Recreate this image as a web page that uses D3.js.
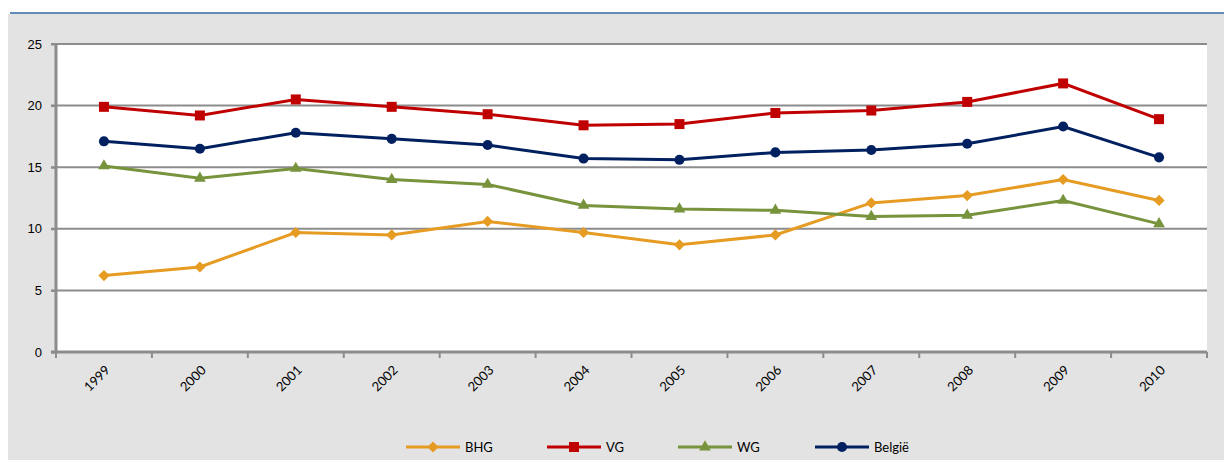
<!DOCTYPE html>
<html>
<head>
<meta charset="utf-8">
<title>Line chart</title>
<style>
    body
    {
        margin: 0;
        background: #ffffff;
        font-family: Lato, "Open Sans", sans-serif;
    }

    svg text
    {
        fill: #000000;
        font-size: 13px;
    }
</style>
<script src="https://d3js.org/d3.v7.min.js"></script>
</head>
<body>
<svg id="chart" width="1224" height="460"></svg>

<script>
var years = ["1999", "2000", "2001", "2002", "2003", "2004", "2005", "2006", "2007", "2008", "2009", "2010"];
var yTicks = [0, 5, 10, 15, 20, 25];

var bhg = [6.2, 6.9, 9.7, 9.5, 10.6, 9.7, 8.7, 9.5, 12.1, 12.7, 14.0, 12.3];
var vg = [19.9, 19.2, 20.5, 19.9, 19.3, 18.4, 18.5, 19.4, 19.6, 20.3, 21.8, 18.9];
var wg = [15.1, 14.1, 14.9, 14.0, 13.6, 11.9, 11.6, 11.5, 11.0, 11.1, 12.3, 10.4];
var belgie = [17.1, 16.5, 17.8, 17.3, 16.8, 15.7, 15.6, 16.2, 16.4, 16.9, 18.3, 15.8];

var seriesNames = ["BHG", "VG", "WG", "België"];
var seriesColors = ["#e69b23", "#c00000", "#77933c", "#002060"];
var seriesSymbols = [d3.symbolDiamond2, d3.symbolSquare, d3.symbolTriangle, d3.symbolCircle];
var seriesData = [bhg, vg, wg, belgie];

var svg = d3.select("#chart");

// background panel and top rule
svg.append("rect")
    .attr("x", 8).attr("y", 14)
    .attr("width", 1216).attr("height", 446)
    .attr("fill", "#e3e3e3");

svg.append("line")
    .attr("x1", 10).attr("x2", 1224)
    .attr("y1", 13).attr("y2", 13)
    .attr("stroke", "#2e64a0")
    .attr("stroke-width", 1.5);

var plot = { left: 56, right: 1207, top: 44, bottom: 352 };

var x = d3.scaleBand()
    .domain(years)
    .range([plot.left, plot.right]);

var y = d3.scaleLinear()
    .domain([0, 25])
    .range([plot.bottom, plot.top]);

svg.append("rect")
    .attr("x", plot.left).attr("y", plot.top)
    .attr("width", plot.right - plot.left)
    .attr("height", plot.bottom - plot.top)
    .attr("fill", "#ffffff");

// gridlines
svg.append("g")
    .selectAll("line")
    .data(yTicks.filter(function(d) { return d > 0; }))
    .enter()
    .append("line")
    .attr("x1", plot.left - 5)
    .attr("x2", plot.right)
    .attr("y1", function(d) { return y(d); })
    .attr("y2", function(d) { return y(d); })
    .attr("stroke", "#8c8c8c")
    .attr("stroke-width", 2);

// y axis
var yAxis = svg.append("g")
    .attr("transform", "translate(" + plot.left + ",0)")
    .call(d3.axisLeft(y).tickValues(yTicks).tickSize(5).tickPadding(9));

yAxis.select(".domain")
    .attr("stroke", "#8c8c8c")
    .attr("stroke-width", 3)
    .attr("d", "M0," + plot.top + "V" + (plot.bottom + 1));

yAxis.selectAll(".tick line")
    .attr("stroke", "#8c8c8c")
    .attr("stroke-width", 2);

yAxis.selectAll(".tick text")
    .style("font-size", "13px")
    .attr("fill", "#000");

// x axis with ticks at band boundaries
var xAxis = svg.append("g")
    .attr("transform", "translate(0," + plot.bottom + ")");

xAxis.append("line")
    .attr("x1", plot.left - 5)
    .attr("x2", plot.right)
    .attr("y1", 0).attr("y2", 0)
    .attr("stroke", "#8c8c8c")
    .attr("stroke-width", 3);

var boundaries = years.map(function(d) { return x(d); }).concat([plot.right]);

xAxis.selectAll(".xtick")
    .data(boundaries)
    .enter()
    .append("line")
    .attr("class", "xtick")
    .attr("x1", function(d) { return d; })
    .attr("x2", function(d) { return d; })
    .attr("y1", 0).attr("y2", 6)
    .attr("stroke", "#8c8c8c")
    .attr("stroke-width", 2);

xAxis.selectAll(".xlabel")
    .data(years)
    .enter()
    .append("text")
    .attr("class", "xlabel")
    .attr("text-anchor", "end")
    .attr("transform", function(d) {
        return "translate(" + (x(d) + x.bandwidth() / 2 + 7) + ",19) rotate(-45)";
    })
    .style("font-size", "13px")
    .text(function(d) { return d; });

// lines and markers
var line = d3.line()
    .x(function(d, i) { return x(years[i]) + x.bandwidth() / 2; })
    .y(function(d) { return y(d); });

var markerSizes = [80, 100, 60, 80];

seriesData.forEach(function(values, s) {
    var g = svg.append("g");

    g.append("path")
        .datum(values)
        .attr("d", line)
        .attr("fill", "none")
        .attr("stroke", seriesColors[s])
        .attr("stroke-width", 3);

    g.selectAll("path.marker")
        .data(values)
        .enter()
        .append("path")
        .attr("class", "marker")
        .attr("d", d3.symbol().type(seriesSymbols[s]).size(markerSizes[s]))
        .attr("transform", function(d, i) {
            return "translate(" + (x(years[i]) + x.bandwidth() / 2) + "," + y(d) + ")";
        })
        .attr("fill", seriesColors[s]);
});

// legend
var legendX = [406, 547, 678, 815];
var legendY = 447;

var legend = svg.append("g");

seriesNames.forEach(function(name, s) {
    var item = legend.append("g")
        .attr("transform", "translate(" + legendX[s] + "," + legendY + ")");

    item.append("line")
        .attr("x1", 0).attr("x2", 54)
        .attr("y1", 0).attr("y2", 0)
        .attr("stroke", seriesColors[s])
        .attr("stroke-width", 3);

    item.append("path")
        .attr("d", d3.symbol().type(seriesSymbols[s]).size(markerSizes[s]))
        .attr("transform", "translate(27,0)")
        .attr("fill", seriesColors[s]);

    item.append("text")
        .attr("x", 59)
        .attr("y", 5)
        .style("font-size", "13px")
        .text(name);
});
</script>
</body>
</html>
